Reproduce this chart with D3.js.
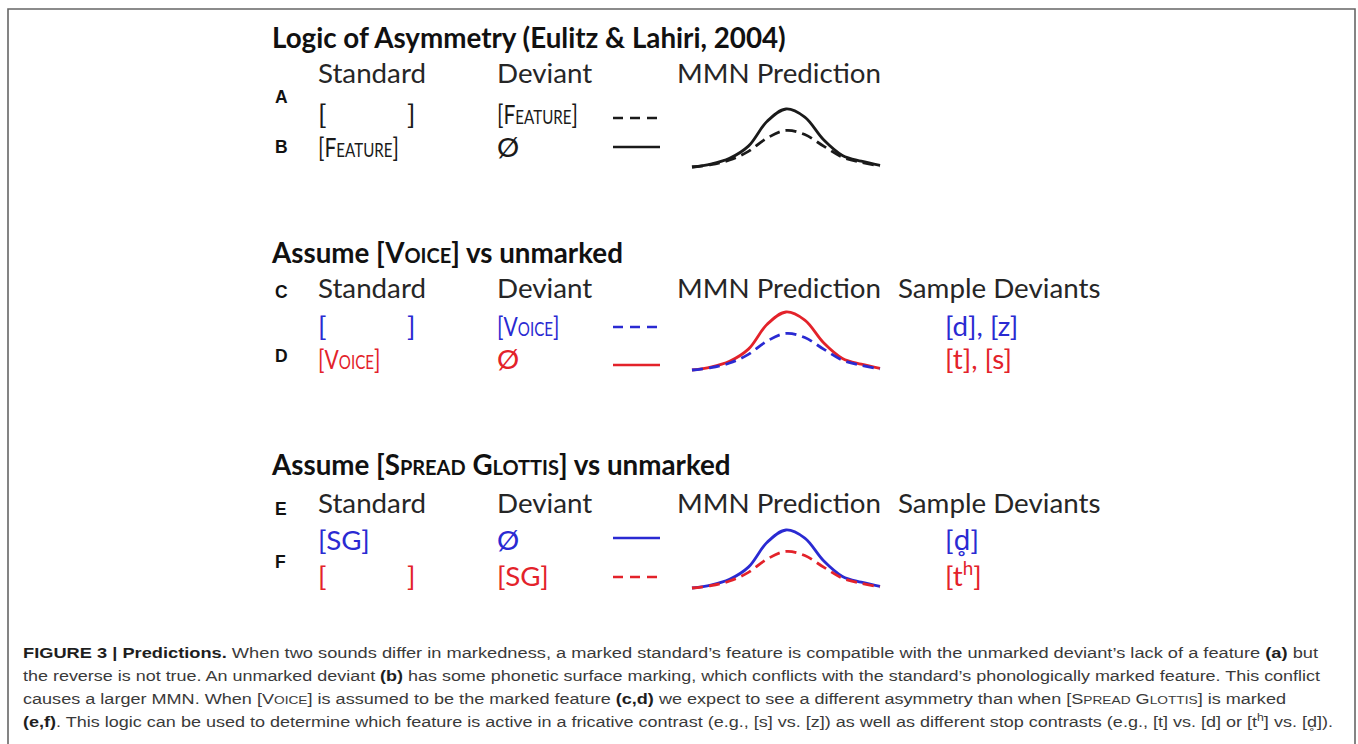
<!DOCTYPE html>
<html><head><meta charset="utf-8">
<script src="https://cdn.jsdelivr.net/npm/d3@7"></script>
<style>body{margin:0;background:#fff} svg{display:block}</style>
</head><body>
<svg id="c" width="1358" height="744"></svg>
<script>
// ---------------- data ----------------
const sectionTitles = [
  "Logic of Asymmetry (Eulitz & Lahiri, 2004)",
  "Assume [V{OICE}] vs unmarked",
  "Assume [S{PREAD} G{LOTTIS}] vs unmarked"
];
const columnHeaders = ["Standard", "Deviant", "MMN Prediction", "Sample Deviants"];
const rowLabels = ["A", "B", "C", "D", "E", "F"];
const rowStandards = ["[]", "[F{EATURE}]", "[]", "[V{OICE}]", "[SG]", "[]"];
const rowDeviants = ["[F{EATURE}]", "Ø", "[V{OICE}]", "Ø", "Ø", "[SG]"];
const rowLineStyles = ["dashed", "solid", "dashed", "solid", "solid", "dashed"];
const rowColors = ["black", "black", "blue", "red", "blue", "red"];
const rowSamples = ["", "", "[d], [z]", "[t], [s]", "[d\u0325]", "[t^(h)]"];
// MMN prediction curves (relative amplitude over time steps)
const curveTime = [0, 1, 2, 3, 4, 5, 6, 7, 8, 9, 10];
const largeMMN = [0, 0.05, 0.15, 0.36, 0.79, 1.0, 0.86, 0.47, 0.2, 0.1, 0.03];
const smallMMN = [0, 0.04, 0.12, 0.27, 0.5, 0.63, 0.56, 0.36, 0.17, 0.08, 0.02];
const captionLines = [
  "**FIGURE 3 | Predictions.** When two sounds differ in markedness, a marked standard\u2019s feature is compatible with the unmarked deviant\u2019s lack of a feature **(a)** but",
  "the reverse is not true. An unmarked deviant **(b)** has some phonetic surface marking, which conflicts with the standard\u2019s phonologically marked feature. This conflict",
  "causes a larger MMN. When [V{OICE}] is assumed to be the marked feature **(c,d)** we expect to see a different asymmetry than when [S{PREAD} G{LOTTIS}] is marked",
  "**(e,f)**. This logic can be used to determine which feature is active in a fricative contrast (e.g., [s] vs. [z]) as well as different stop contrasts (e.g., [t] vs. [d] or [t^(h)] vs. [d\u0325])."
];

// ---------------- styles / layout ----------------
const palette = { black: "#1a1a1a", blue: "#2a2ad2", red: "#e3222a" };
const headFont = "Lato, 'Open Sans', sans-serif";
const svg = d3.select("#c");

svg.append("path")
  .attr("d", "M8,744 L8,9 L1355,9 L1355,744")
  .attr("fill", "none").attr("stroke", "#666").attr("stroke-width", 1.6);

function rich(sel, str, size, opts = {}) {
  const re = /\*\*|\{([^}]*)\}|\^\(([^)]*)\)|(.\u0325)|([^{^*]+?(?=.\u0325|\*\*|\{|\^\(|$))/gs;
  let m, bold = false, pendingDy = 0;
  const sc = opts.sc || 0.76;
  while ((m = re.exec(str))) {
    if (m[0] === "") { re.lastIndex++; continue; }
    if (m[0] === "**") { bold = !bold; continue; }
    let t;
    if (m[1] !== undefined) t = sel.append("tspan").attr("font-size", size * sc).text(m[1]);
    else if (m[2] !== undefined) { t = sel.append("tspan").attr("font-size", size * 0.68).attr("dy", -size * 0.38).text(m[2]); pendingDy = size * 0.38; }
    else if (m[3] !== undefined) { t = sel.append("tspan").text(m[3]); if (opts.markFont) t.attr("font-family", opts.markFont); }
    else t = sel.append("tspan").text(m[4]);
    if (pendingDy && m[2] === undefined) { t.attr("dy", pendingDy); pendingDy = 0; }
    if (bold) t.attr("font-weight", "bold").attr("fill", "#1e1e1e");
  }
  return sel;
}

function measureRich(str, family, weight, size, opts) {
  const t = svg.append("text").attr("font-family", family).attr("font-weight", weight).attr("font-size", size);
  rich(t, str, size, opts);
  const w = t.node().getComputedTextLength(); t.remove(); return w;
}
const headSize = 100 * 108 / measureRich("Standard", headFont, "normal", 100);
const titleSize = 100 * 351 / measureRich(sectionTitles[1], headFont, "bold", 100, { sc: 0.72 });
const scOpts = { sc: 0.72, markFont: "'Noto Sans', 'DejaVu Sans', sans-serif" };
const scSqueeze = 81 / measureRich(rowDeviants[0], headFont, "normal", headSize, scOpts);

const colX = [318, 497, 677, 898];
const legendX = [613, 660];
const sampleX = 945;
const labelX = 275;
const sections = [
  { title: 48, header: 83, rows: [124, 157], labels: [103, 153], legend: [118, 147], base: 167, nHead: 3 },
  { title: 263, header: 298, rows: [336, 369], labels: [298, 362], legend: [327, 365], base: 370, nHead: 4 },
  { title: 475, header: 513, rows: [550, 586], labels: [515, 568], legend: [538, 577], base: 588, nHead: 4 }
];
const x = d3.scaleLinear().domain(d3.extent(curveTime)).range([692, 880]);

sections.forEach((s, si) => {
  const g = svg.append("g");
  const tt = g.append("text").attr("x", 272).attr("y", s.title).attr("font-family", headFont)
    .attr("font-weight", "bold").attr("font-size", titleSize).attr("fill", "#111");
  rich(tt, sectionTitles[si], titleSize, { sc: 0.72 });
  columnHeaders.slice(0, s.nHead).forEach((h, hi) => {
    g.append("text").attr("x", colX[hi]).attr("y", s.header).attr("font-family", headFont)
      .attr("font-size", headSize).attr("fill", "#262626").text(h);
  });
  [0, 1].forEach(r => {
    const ri = si * 2 + r;
    const col = palette[rowColors[ri]];
    g.append("text").attr("x", labelX).attr("y", s.labels[r]).attr("font-family", "'Liberation Sans', Arial, sans-serif")
      .attr("font-weight", "bold").attr("font-size", 17.5).attr("fill", "#111").text(rowLabels[ri]);
    const y = s.rows[r];
    const txt = (str, xx) => {
      const squeeze = str.includes("{");
      const t = g.append("text").attr("font-family", headFont)
        .attr("font-size", headSize).attr("fill", col)
        .attr("transform", `translate(${xx},${y})` + (squeeze ? ` scale(${scSqueeze},1)` : ""));
      rich(t, str, headSize, scOpts);
      return t;
    };
    if (rowStandards[ri] === "[]") { txt("[", colX[0]); txt("]", colX[0] + 89); }
    else txt(rowStandards[ri], colX[0]);
    txt(rowDeviants[ri], colX[1]);
    if (rowSamples[ri]) txt(rowSamples[ri], sampleX);
    g.append("line").attr("x1", legendX[0]).attr("x2", legendX[1])
      .attr("y1", s.legend[r]).attr("y2", s.legend[r])
      .attr("stroke", col).attr("stroke-width", 2.6)
      .attr("stroke-dasharray", rowLineStyles[ri] === "dashed" ? "10,7" : null);
  });
  // curves: solid row => large MMN, dashed row => small MMN
  const y = d3.scaleLinear().domain([0, 1]).range([s.base, s.base - 58]);
  const line = d3.line().x((d, i) => x(curveTime[i])).y(d => y(d)).curve(d3.curveCatmullRom.alpha(0.5));
  const solidRow = rowLineStyles[si * 2] === "solid" ? si * 2 : si * 2 + 1;
  const dashRow = solidRow === si * 2 ? si * 2 + 1 : si * 2;
  g.append("path").attr("d", line(largeMMN)).attr("fill", "none")
    .attr("stroke", palette[rowColors[solidRow]]).attr("stroke-width", 2.8);
  g.append("path").attr("d", line(smallMMN)).attr("fill", "none")
    .attr("stroke", palette[rowColors[dashRow]]).attr("stroke-width", 2.8).attr("stroke-dasharray", "11,6");
});

// caption
const capY = [658, 681, 704, 727];
const capEnd = [1318, 1320, 1286, 1333];
captionLines.forEach((l, i) => {
  rich(svg.append("text").attr("x", 23).attr("y", capY[i])
    .attr("font-family", "'Liberation Sans', Arial, sans-serif").attr("font-size", 15.5)
    .attr("fill", "#3a3a3a").attr("textLength", capEnd[i] - 23).attr("lengthAdjust", "spacingAndGlyphs"), l, 15.5);
});
</script>
</body></html>
